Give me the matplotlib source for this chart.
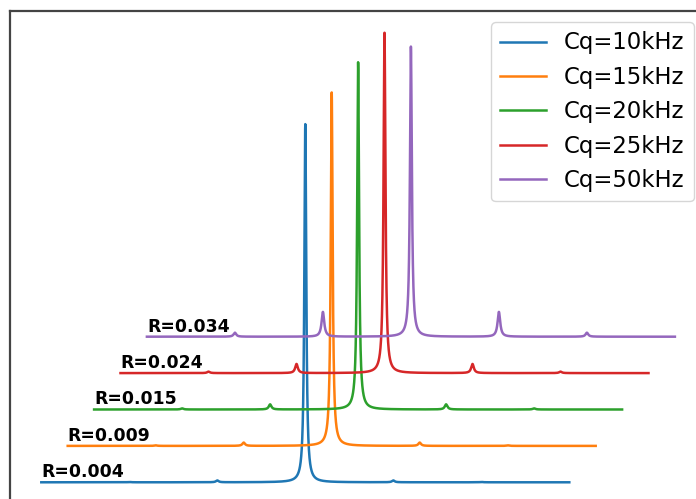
import numpy as np
import matplotlib
matplotlib.use('Agg')
import matplotlib.pyplot as plt

# ---- data ----
cq_labels = ['Cq=10kHz', 'Cq=15kHz', 'Cq=20kHz', 'Cq=25kHz', 'Cq=50kHz']
r_labels = ['R=0.004', 'R=0.009', 'R=0.015', 'R=0.024', 'R=0.034']
# peak positions (in units of the satellite spacing) and heights
peak_positions = [-2, -1, 0, 1, 2]
main_height = [0.984, 0.971, 0.954, 0.935, 0.797]
sat1_height = [0.005, 0.009, 0.014, 0.025, 0.068]
sat2_height = [0.001, 0.0015, 0.003, 0.004, 0.011]
peak_half_width = [0.018, 0.018, 0.013, 0.018, 0.018]
freq = np.linspace(-3, 3, 12001)

# ---- layout ----
W, H = 696, 499
fig = plt.figure(figsize=(W / 100, H / 100), dpi=100)
ax_left, ax_right, ax_top, ax_bottom = 10, 705, 11, 520
ax = fig.add_axes([ax_left / W, (H - ax_bottom) / H,
                   (ax_right - ax_left) / W, (ax_bottom - ax_top) / H])

x_shift, y_shift = 0.3, 0.1
for i in range(len(cq_labels)):
    heights = [sat2_height[i], sat1_height[i], main_height[i],
               sat1_height[i], sat2_height[i]]
    spec = np.zeros_like(freq)
    for p, h, g in zip(peak_positions, heights, peak_half_width):
        spec += h * g**2 / ((freq - p)**2 + g**2)
    ax.plot(freq + x_shift * i, spec + y_shift * i, lw=1.8, label=cq_labels[i])
    ax.text(freq[0] + x_shift * i, y_shift * i + 5 / 364, r_labels[i],
            fontsize=12.4, fontweight='bold', ha='left', va='baseline')

ax.set_xlim((ax_left - 305.3) / 88, (ax_right - 305.3) / 88)
ax.set_ylim((482.3 - ax_bottom) / 364, (482.3 - ax_top) / 364)
ax.set_xticks([])
ax.set_yticks([])
for s in ax.spines.values():
    s.set_linewidth(1.6)
    s.set_color('#444444')

ax.legend(loc='upper right', fontsize=16.4)
fig.savefig('out.png', dpi=100)
